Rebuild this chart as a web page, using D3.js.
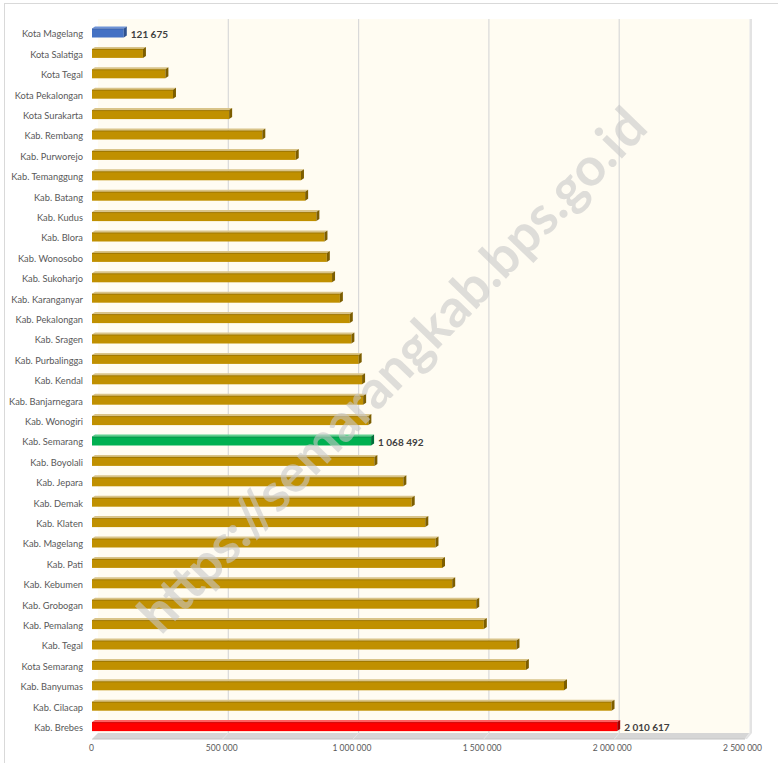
<!DOCTYPE html>
<html><head><meta charset="utf-8">
<script src="https://cdn.jsdelivr.net/npm/d3@7"></script>
<style>body{margin:0;background:#fff}svg{display:block}</style>
</head><body>
<svg id="chart" width="778" height="763"></svg>
<script>
const categories = ["Kota Magelang","Kota Salatiga","Kota Tegal","Kota Pekalongan","Kota Surakarta","Kab. Rembang","Kab. Purworejo","Kab. Temanggung","Kab. Batang","Kab. Kudus","Kab. Blora","Kab. Wonosobo","Kab. Sukoharjo","Kab. Karanganyar","Kab. Pekalongan","Kab. Sragen","Kab. Purbalingga","Kab. Kendal","Kab. Banjarnegara","Kab. Wonogiri","Kab. Semarang","Kab. Boyolali","Kab. Jepara","Kab. Demak","Kab. Klaten","Kab. Magelang","Kab. Pati","Kab. Kebumen","Kab. Grobogan","Kab. Pemalang","Kab. Tegal","Kota Semarang","Kab. Banyumas","Kab. Cilacap","Kab. Brebes"];
const values = [121675,195000,281000,310000,525000,652000,780000,800000,816000,859000,890000,899000,919000,949000,987000,993000,1021000,1034000,1038000,1058000,1068492,1081000,1192000,1224000,1276000,1315000,1340000,1379000,1471000,1500000,1625000,1661000,1807000,1989000,2010617];
const labeledCategories = ["Kota Magelang","Kab. Semarang","Kab. Brebes"];
const xTicks = [0,500000,1000000,1500000,2000000,2500000];
const tickLabels = ["0","500 000","1 000 000","1 500 000","2 000 000","2 500 000"];

const special = {"Kota Magelang":{front:"#4472C4",top:"#6f93d6",side:"#2f528f"},
                 "Kab. Semarang":{front:"#00B050",top:"#5fd08e",side:"#00703a"},
                 "Kab. Brebes":{front:"#FF0000",top:"#ff6060",side:"#a00000"}};
const normal = {front:"#C09000",top:"#d9c48a",side:"#7d5e00"};

const svg = d3.select("#chart");
const FONT = "Lato, 'Liberation Sans', sans-serif";
const fmt = v => d3.format(",")(v).replace(/,/g," ");

// outer border
svg.append("rect").attr("x",4.5).attr("y",3.5).attr("width",800).attr("height",800)
  .attr("fill","#fff").attr("stroke","#d9d9d9");

const x = d3.scaleLinear().domain([0,2500000]).range([92,745]);      // front plane
const xBack = d3.scaleLinear().domain([0,2500000]).range([98,749.5]); // back wall
const xLab = d3.scaleLinear().domain([0,2500000]).range([91,742]);    // tick labels
const y = d3.scaleBand().domain(categories).range([22.8,736.8]);

const plotTop = 19, floorY = 733, floorFront = 739;
// back wall
svg.append("rect").attr("x",xBack(0)).attr("y",plotTop).attr("width",xBack(2500000)-xBack(0))
  .attr("height",floorY-plotTop).attr("fill","#FFFCF2");
// right wall
svg.append("polygon").attr("points",[[xBack(2500000),plotTop],[xBack(2500000)+2.5,plotTop],[xBack(2500000)+2.5,floorY],[x(2500000)+2,floorFront],[x(2500000),floorFront],[xBack(2500000),floorY]].join(" "))
  .attr("fill","#e3e3e3");
// gridlines
xTicks.slice(1,-1).forEach(t=>{
  svg.append("line").attr("x1",xBack(t)).attr("x2",xBack(t)).attr("y1",plotTop).attr("y2",floorY)
    .attr("stroke","#d9d9d9").attr("stroke-width",1.2);
});
// floor
svg.append("polygon").attr("points",[[x(0),floorFront],[xBack(0),floorY],[xBack(2500000),floorY],[x(2500000),floorFront]].join(" "))
  .attr("fill","#d6d6d6");
svg.append("line").attr("x1",x(0)).attr("x2",x(2500000)).attr("y1",floorFront).attr("y2",floorFront)
  .attr("stroke","#c4c4c4");
xTicks.forEach(t=>{
  svg.append("line").attr("x1",xBack(t)).attr("y1",floorY).attr("x2",x(t)).attr("y2",floorFront)
    .attr("stroke","#e8e8e8").attr("stroke-width",0.8);
});

// bars
const dx = 3, dy = 2, h = 9;
const bars = svg.append("g");
categories.forEach((c,i)=>{
  const v = values[i];
  const col = special[c] || normal;
  const cy = y(c) + y.bandwidth()/2;
  const y0 = cy - h/2, y1 = cy + h/2;
  const x0 = x(0), x1 = x(v);
  const g = bars.append("g");
  g.append("polygon").attr("points",[[x0,y0],[x0+dx,y0-dy],[x1+dx,y0-dy],[x1,y0]].join(" ")).attr("fill",col.top);
  g.append("rect").attr("x",x0).attr("y",y0).attr("width",x1-x0).attr("height",h).attr("fill",col.front);
  g.append("line").attr("x1",x0).attr("x2",x1).attr("y1",y0+0.5).attr("y2",y0+0.5).attr("stroke",col.side).attr("stroke-opacity",0.5);
  g.append("polygon").attr("points",[[x1,y0],[x1+dx,y0-dy],[x1+dx,y1-dy],[x1,y1]].join(" ")).attr("fill",col.side);
  if (labeledCategories.includes(c)) {
    g.append("text").attr("x",x1+dx+4).attr("y",cy+1).attr("dy","0.35em")
      .attr("font-family",FONT).attr("font-weight","bold").attr("font-size",10)
      .attr("fill","#404040").text(fmt(v));
  }
});

// category axis labels
const yAxis = svg.append("g").attr("transform","translate(83,1.5)")
  .call(d3.axisLeft(y).tickSize(0).tickPadding(0));
yAxis.select(".domain").remove();
yAxis.selectAll("text").attr("font-family",FONT).attr("font-size",9.3).attr("fill","#595959");

// x axis labels
const xAxis = svg.append("g").attr("transform","translate(0,745)")
  .call(d3.axisBottom(xLab).tickValues(xTicks).tickSize(0).tickPadding(0).tickFormat((d,i)=>tickLabels[i]));
xAxis.select(".domain").remove();
xAxis.selectAll("text").attr("font-family",FONT).attr("font-size",8.5).attr("fill","#595959");

// watermark
svg.append("text").attr("transform","translate(392,370) rotate(-46)")
  .attr("text-anchor","middle").attr("dy","0.35em")
  .attr("font-family",FONT).attr("font-weight","bold").attr("font-size",53)
  .attr("fill","#c8c8c8").attr("fill-opacity",0.6).text("https://semarangkab.bps.go.id");
</script>
</body></html>
